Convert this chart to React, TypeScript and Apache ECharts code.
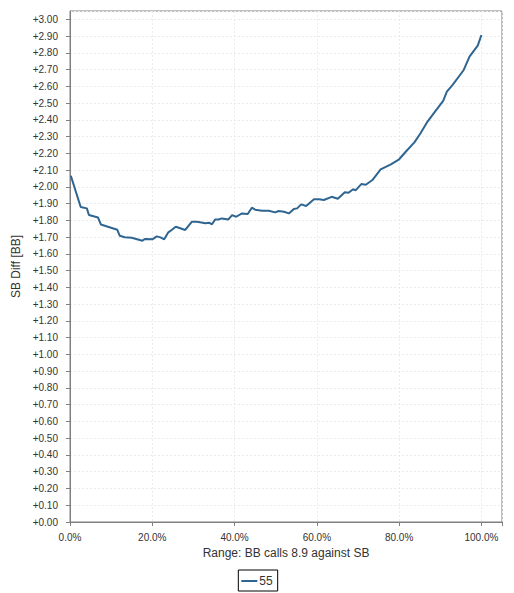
import React, { useEffect, useRef } from "react";
import * as echarts from "echarts";

const seriesName = "55";
const xTicks = [0, 20, 40, 60, 80, 100];
const xValues = [
  0.2, 2.6, 4.1, 4.6, 6.8, 7.5, 11.5, 12.1, 13.3, 15.0, 17.6, 18.2, 20.0, 21.1, 22.0, 22.9,
  23.9, 24.7, 25.7, 26.8, 28.0, 29.6, 30.8, 31.6, 32.9, 33.9, 34.5, 35.3, 36.1, 36.9, 38.5,
  39.4, 40.4, 41.8, 43.2, 44.2, 45.0, 46.7, 48.3, 49.9, 50.7, 52.0, 53.2, 54.4, 55.2, 56.2,
  57.4, 59.3, 60.5, 61.7, 63.6, 65.1, 66.8, 67.7, 68.8, 69.4, 70.8, 71.9, 73.5, 75.5, 78.0,
  80.0, 81.6, 83.7, 85.2, 86.9, 88.9, 90.7, 91.6, 93.0, 95.7, 97.1, 99.1, 100.0,
];
const yValues = [
  2.067, 1.88, 1.872, 1.832, 1.818, 1.776, 1.744, 1.708, 1.7, 1.697, 1.679, 1.689, 1.687, 1.705,
  1.699, 1.687, 1.729, 1.743, 1.762, 1.753, 1.743, 1.792, 1.792, 1.789, 1.783, 1.786, 1.777,
  1.806, 1.806, 1.812, 1.806, 1.832, 1.822, 1.842, 1.838, 1.876, 1.864, 1.858, 1.858, 1.848,
  1.856, 1.852, 1.842, 1.868, 1.872, 1.896, 1.886, 1.926, 1.926, 1.922, 1.941, 1.929, 1.968,
  1.965, 1.986, 1.979, 2.017, 2.013, 2.041, 2.105, 2.135, 2.165, 2.21, 2.266, 2.32, 2.39, 2.455,
  2.513, 2.569, 2.609, 2.698, 2.778, 2.843, 2.907,
];

const FONT = "Liberation Sans";

export default function App() {
  const ref = useRef<HTMLDivElement>(null);
  useEffect(() => {
    if (!ref.current) return;
    const chart = echarts.init(ref.current, undefined, { renderer: "svg" });
    const data = xValues.map((x, i) => [x, yValues[i]]);
    chart.setOption({
      animation: false,
      backgroundColor: "#ffffff",
      grid: {
        left: 70,
        top: 11,
        right: 12,
        bottom: 71,
        show: true,
        borderColor: "#808080",
        borderWidth: 1,
        backgroundColor: "#ffffff",
      },
      legend: {
        data: [seriesName],
        left: "center",
        top: 570,
        borderColor: "#000000",
        borderWidth: 1,
        padding: [5, 5, 4, 3],
        icon: "rect",
        itemWidth: 16,
        itemHeight: 2,
        itemGap: 2,
        textStyle: { fontFamily: FONT, fontSize: 12, color: "#333333", padding: [0, 0, 0, -3] },
      },
      xAxis: {
        type: "value",
        min: 0,
        max: 105,
        interval: 20,
        offset: 4,
        name: "Range: BB calls 8.9 against SB",
        nameLocation: "middle",
        nameGap: 20,
        nameTextStyle: { fontFamily: FONT, fontSize: 12, color: "#333333" },
        axisLine: { show: true, lineStyle: { color: "#808080", width: 1 } },
        axisTick: { show: true, length: 4, lineStyle: { color: "#808080" } },
        axisLabel: {
          fontFamily: FONT,
          fontSize: 10,
          color: "#333333",
          margin: 6,
          formatter: (v: number) => (xTicks.includes(Math.round(v)) && Math.abs(v - Math.round(v)) < 1e-6 ? v.toFixed(1) + "%" : ""),
        },
        splitLine: { show: true, lineStyle: { color: "#ebebeb", type: [2, 2], width: 1 } },
      },
      yAxis: {
        type: "value",
        min: 0,
        max: 3.05,
        interval: 0.1,
        offset: 4,
        name: "SB Diff [BB]",
        nameLocation: "middle",
        nameGap: 43,
        nameTextStyle: { fontFamily: FONT, fontSize: 12, color: "#333333" },
        axisLine: { show: true, lineStyle: { color: "#808080", width: 1 } },
        axisTick: { show: true, length: 4, lineStyle: { color: "#808080" } },
        axisLabel: {
          fontFamily: FONT,
          fontSize: 10,
          color: "#333333",
          margin: 8,
          showMaxLabel: false,
          formatter: (v: number) => (v > 3.001 ? "" : "+" + v.toFixed(2)),
        },
        splitLine: { show: true, lineStyle: { color: "#ebebeb", type: [2, 2], width: 1 } },
      },
      series: [
        {
          name: seriesName,
          type: "line",
          data,
          showSymbol: false,
          symbol: "none",
          color: "#2f6591",
          lineStyle: { width: 2, color: "#2f6591" },
        },
      ],
    });
    return () => chart.dispose();
  }, []);
  return (
    <div
      ref={ref}
      style={{ position: "fixed", left: 0, top: 0, width: 514, height: 593 }}
    />
  );
}
